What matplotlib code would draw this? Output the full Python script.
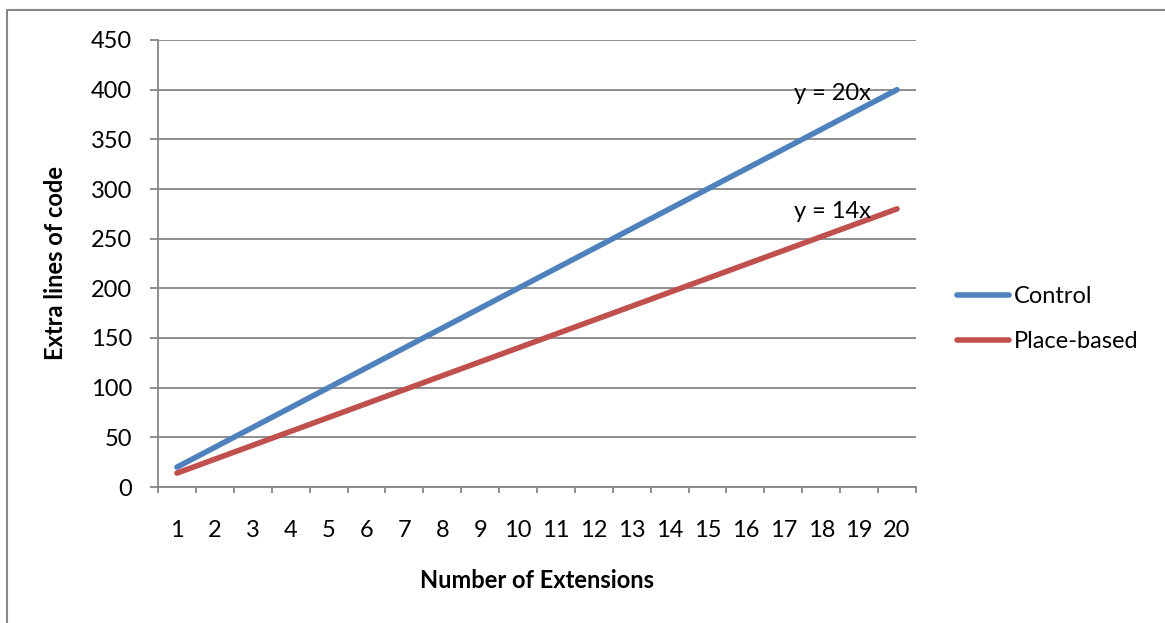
import numpy as np
import matplotlib.pyplot as plt
from matplotlib.lines import Line2D

plt.rcParams['font.family'] = ['Lato', 'DejaVu Sans']

extensions = np.arange(1, 21)
control = np.array([20, 40, 60, 80, 100, 120, 140, 160, 180, 200,
                    220, 240, 260, 280, 300, 320, 340, 360, 380, 400])
place_based = np.array([14, 28, 42, 56, 70, 84, 98, 112, 126, 140,
                        154, 168, 182, 196, 210, 224, 238, 252, 266, 280])
y_ticks = np.arange(0, 451, 50)
labels = ['Control', 'Place-based']
trend_labels = ['y = 20x', 'y = 14x']

blue = '#4F81BD'
red = '#C0504D'
grey = '#868686'
fs = 17
lw = 4.0

W, H = 1165, 623
fig = plt.figure(figsize=(W/100, H/100), dpi=100)
ax = fig.add_axes([158/W, 1-487/H, (916-158)/W, (487-40)/H])

ax.plot(extensions, control, color=blue, lw=lw, solid_capstyle='round', label=labels[0])
ax.plot(extensions, place_based, color=red, lw=lw, solid_capstyle='round', label=labels[1])

ax.text(18.3, 396, trend_labels[0], ha='center', va='center', fontsize=fs)
ax.text(18.3, 277, trend_labels[1], ha='center', va='center', fontsize=fs)

ax.set_xlim(0.5, 20.5)
ax.set_ylim(0, 450)
ax.set_yticks(y_ticks)
ax.set_xticks(np.arange(0.5, 21, 1))
ax.set_xticklabels([])
ax.set_xticks(extensions, minor=True)
ax.set_xticklabels([str(e) for e in extensions], minor=True)
ax.tick_params(axis='x', which='major', length=4.3, width=1.3, color=grey)
ax.tick_params(axis='x', which='minor', length=0, pad=24, labelsize=fs)
ax.tick_params(axis='y', length=5.8, width=1.3, color=grey, pad=13, labelsize=fs)

ax.yaxis.grid(True, color=grey, lw=1.3)
ax.set_axisbelow(True)
for s in ['top', 'right']:
    ax.spines[s].set_visible(False)
for s in ['left', 'bottom']:
    ax.spines[s].set_color(grey)
    ax.spines[s].set_linewidth(1.3)

fig.text(537/W, 1-580/H, 'Number of Extensions', ha='center', va='center',
         fontsize=17, fontweight='bold')
fig.text(56/W, 1-263/H, 'Extra lines of code', ha='center', va='center',
         rotation=90, fontsize=17, fontweight='bold')

handles = [Line2D([], [], color=blue, lw=lw, solid_capstyle='round'),
           Line2D([], [], color=red, lw=lw, solid_capstyle='round')]
fig.legend(handles, labels, loc='center left', bbox_to_anchor=(936/W, 1-319/H),
           frameon=False, fontsize=fs, handlelength=2.2, handletextpad=0.2,
           labelspacing=1.0)

# outer chart border
fig.add_artist(Line2D([7/W, 7/W, 1], [0, 1-10/H, 1-10/H], color=grey, lw=1.5,
                      transform=fig.transFigure))

fig.savefig('out.png', dpi=100)
